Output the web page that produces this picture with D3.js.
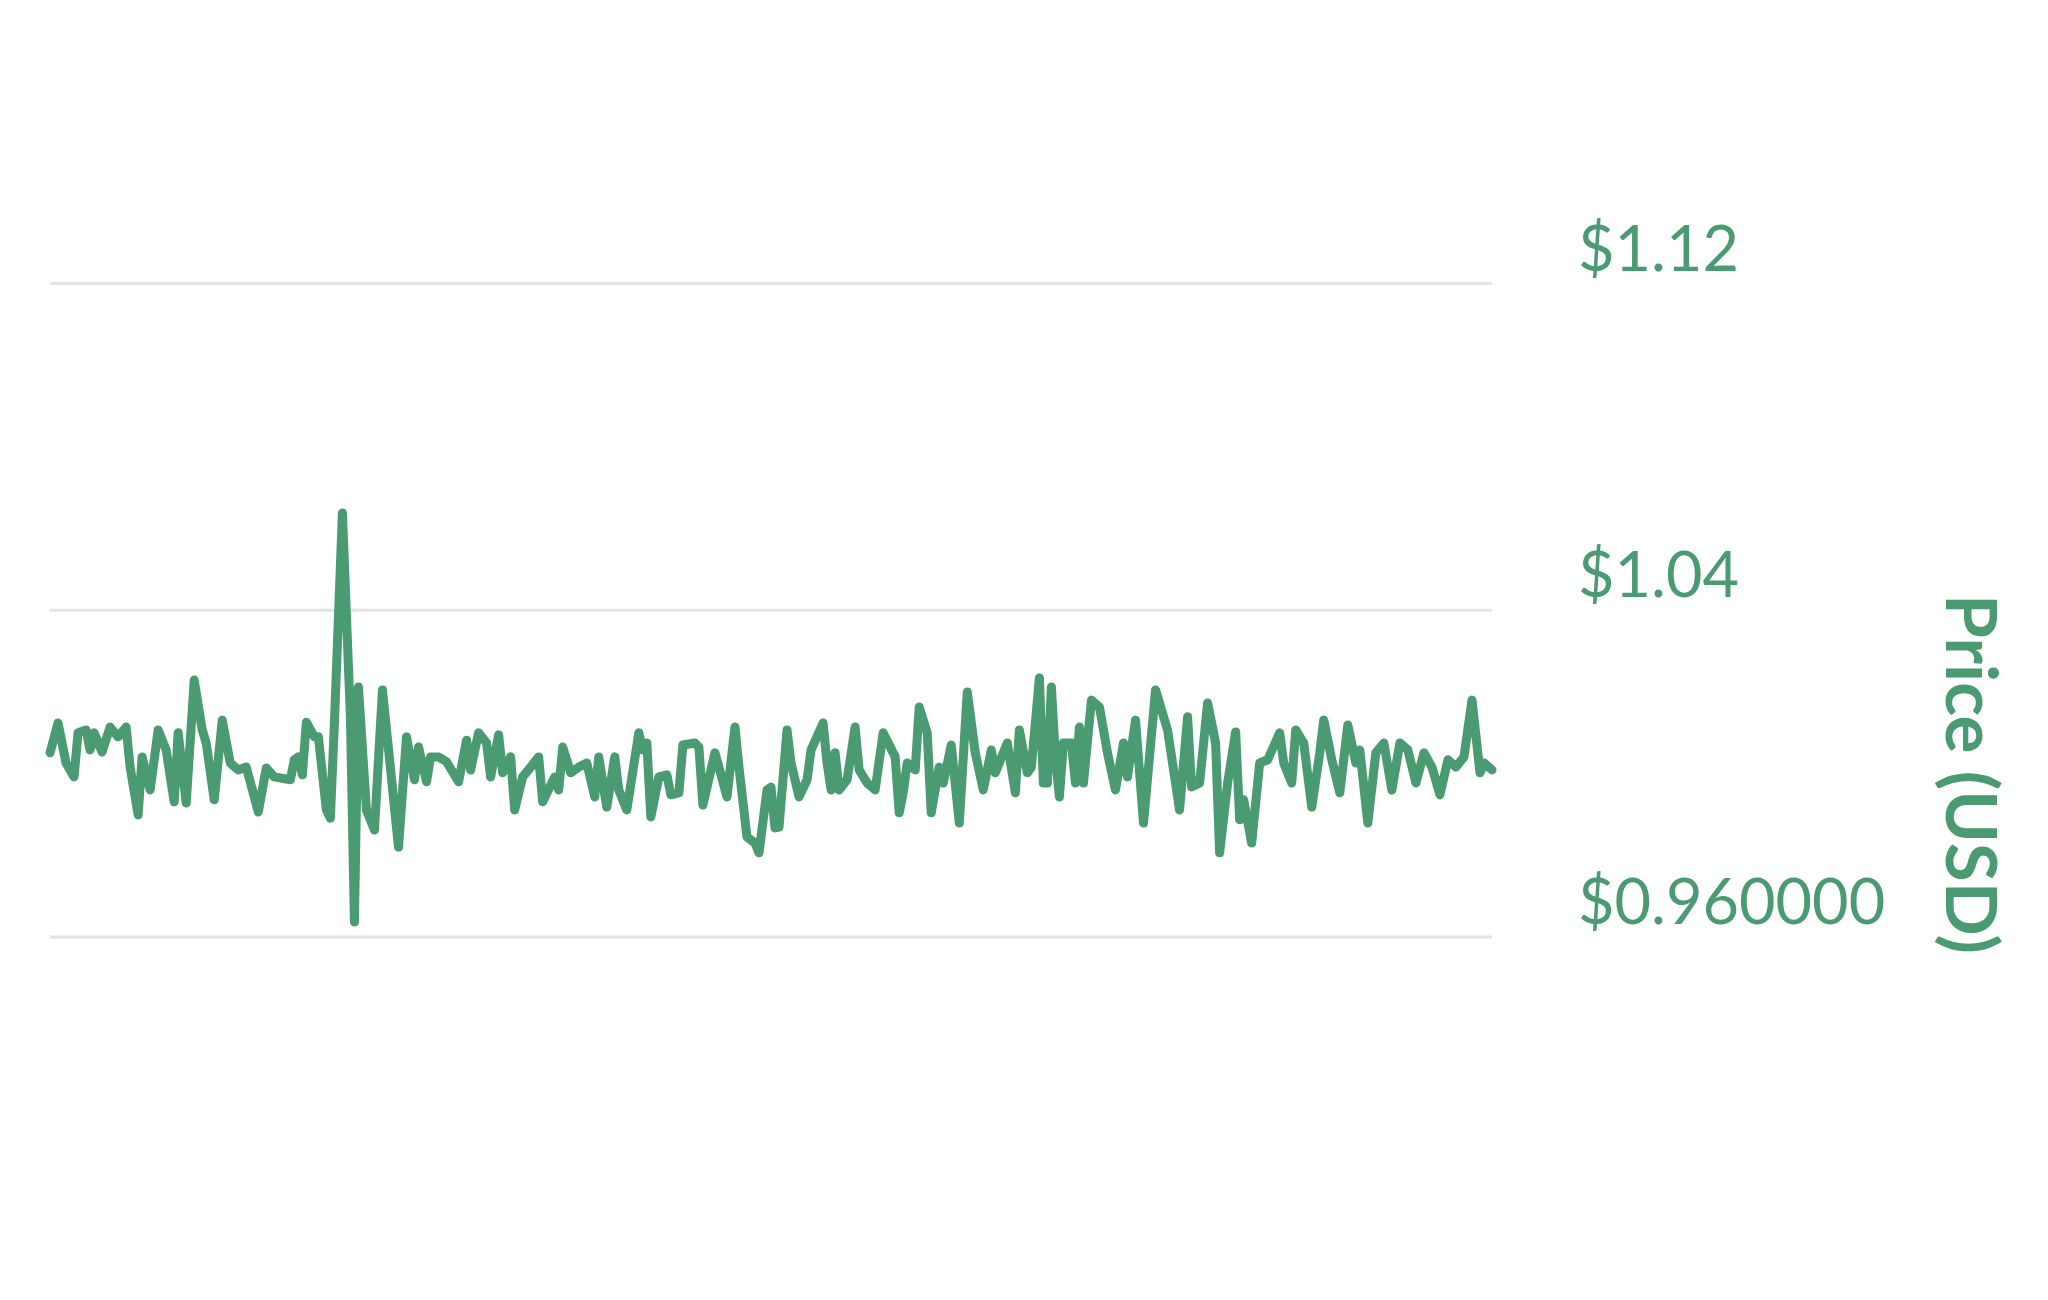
<!DOCTYPE html>
<html>
<head>
<meta charset="utf-8">
<script src="https://cdn.jsdelivr.net/npm/d3@7"></script>
<style>
  body { margin: 0; background: #fff; }
</style>
</head>
<body>
<script>
var w = 2048;
var h = 1300;

// day offsets and price (USD)
var days = [0, 2, 4, 6, 7, 9, 10, 11, 13, 15, 17, 19, 20, 22, 23, 25, 27, 29, 31, 32,
  34, 36, 38, 39, 41, 43, 45, 47, 49, 52, 54, 56, 60, 61, 62, 63, 64, 66, 67, 69,
  70, 71, 73, 75, 76, 77, 79, 81, 83, 87, 89, 91, 92, 94, 95, 97, 99, 102, 104, 105,
  107, 109, 110, 112, 113, 115, 116, 118, 120, 122, 123, 126, 127, 128, 130, 132, 134, 136, 137, 139,
  141, 142, 144, 147, 148, 149, 150, 152, 154, 155, 157, 158, 161, 162, 163, 166, 167, 169, 171, 172,
  174, 176, 177, 179, 180, 181, 182, 184, 185, 187, 189, 190, 193, 194, 195, 196, 197, 199, 201, 202,
  204, 206, 208, 211, 212, 213, 214, 216, 217, 219, 220, 222, 223, 225, 227, 229, 231, 233, 235, 236,
  239, 241, 242, 244, 245, 247, 248, 249, 250, 251, 252, 253, 255, 256, 257, 258, 260, 262, 264, 266,
  268, 269, 271, 273, 276, 279, 282, 284, 285, 287, 289, 291, 292, 294, 296, 297, 298, 300, 302, 304,
  307, 308, 310, 311, 313, 315, 317, 318, 320, 322, 324, 326, 327, 329, 331, 333, 335, 337, 339, 341,
  343, 345, 347, 349, 351, 353, 355, 357, 358, 360];

var prices = [1.0051, 1.0124, 1.0026, 0.9992, 1.0100, 1.0107, 1.0058, 1.0100, 1.0053, 1.0114, 1.0090, 1.0114, 1.0016, 0.9899, 1.0041, 0.9960, 1.0107, 1.0058, 0.9931, 1.0100,
  0.9928, 1.0229, 1.0107, 1.0075, 0.9936, 1.0131, 1.0026, 1.0009, 1.0016, 0.9906, 1.0014, 0.9992, 0.9985, 1.0034, 1.0041, 0.9997, 1.0126, 1.0090, 1.0090, 0.9911,
  0.9891, 1.0124, 1.0638, 1.0139, 0.9637, 1.0212, 0.9911, 0.9862, 1.0205, 0.9820, 1.0090, 0.9985, 1.0065, 0.9980, 1.0041, 1.0041, 1.0029, 0.9980, 1.0082, 1.0009,
  1.0100, 1.0075, 0.9992, 1.0095, 1.0002, 1.0041, 0.9911, 0.9992, 1.0016, 1.0041, 0.9931, 0.9992, 0.9960, 1.0065, 1.0002, 1.0016, 1.0026, 0.9943, 1.0041, 0.9918,
  1.0041, 0.9960, 0.9911, 1.0100, 1.0058, 1.0075, 0.9894, 0.9992, 0.9997, 0.9948, 0.9953, 1.0070, 1.0075, 1.0065, 0.9923, 1.0051, 1.0016, 0.9943, 1.0114, 1.0016,
  0.9845, 0.9830, 0.9806, 0.9960, 0.9967, 0.9867, 0.9869, 1.0107, 1.0026, 0.9943, 0.9985, 1.0058, 1.0124, 1.0026, 0.9960, 1.0051, 0.9960, 0.9985, 1.0114, 1.0009,
  0.9977, 0.9960, 1.0100, 1.0041, 0.9904, 0.9953, 1.0026, 1.0009, 1.0163, 1.0100, 0.9904, 1.0016, 0.9977, 1.0070, 0.9879, 1.0200, 1.0051, 0.9960, 1.0058, 1.0002,
  1.0075, 0.9953, 1.0107, 1.0002, 1.0016, 1.0234, 0.9977, 0.9977, 1.0212, 1.0041, 0.9943, 1.0075, 1.0075, 0.9977, 1.0114, 0.9977, 1.0180, 1.0163, 1.0051, 0.9960,
  1.0075, 0.9992, 1.0131, 0.9879, 1.0205, 1.0107, 0.9911, 1.0139, 0.9967, 0.9977, 1.0173, 1.0075, 0.9806, 0.9977, 1.0102, 0.9887, 0.9936, 0.9830, 1.0026, 1.0034,
  1.0100, 1.0026, 0.9977, 1.0107, 1.0075, 0.9918, 1.0051, 1.0131, 1.0034, 0.9953, 1.0119, 1.0026, 1.0058, 0.9879, 1.0051, 1.0075, 0.9960, 1.0075, 1.0058, 0.9977,
  1.0051, 1.0016, 0.9948, 1.0034, 1.0016, 1.0041, 1.0180, 1.0002, 1.0026, 1.0009];

var tickValues = [0.96, 1.04, 1.12];
var tickLabels = ["$0.960000", "$1.04", "$1.12"];
var axisTitle = "Price (USD)";

var green = "#4a9a72";

var data = days.map(function (d, i) { return { day: d, price: prices[i] }; });

var xScale = d3.scaleLinear()
            .domain([0, 360])
            .range([50, 1492]);

var yScale = d3.scaleLinear()
            .domain([0.96, 1.12])
            .range([937, 283.5]);

var svg = d3.select("body").append("svg").attr("width", w).attr("height", h);

//grid lines
svg.selectAll("line.grid")
    .data(tickValues).enter()
    .append("line")
    .attr("class", "grid")
    .attr("x1", xScale(0))
    .attr("x2", xScale(360))
    .attr("y1", (d) => yScale(d))
    .attr("y2", (d) => yScale(d))
    .attr("stroke", "#e4e4e4")
    .attr("stroke-width", 3);

//tick labels sit just above their grid line, on the right
svg.selectAll("text.tick")
    .data(tickValues).enter()
    .append("text")
    .attr("class", "tick")
    .text((d, i) => tickLabels[i])
    .attr("x", 1578)
    .attr("y", (d) => yScale(d) - 13)
    .attr("font-family", "Lato, sans-serif")
    .attr("font-size", "63px")
    .attr("fill", green);

//axis title, rotated to read downwards
svg.append("text")
    .text(axisTitle)
    .attr("transform", "translate(1946,774) rotate(90)")
    .attr("text-anchor", "middle")
    .attr("font-family", "Lato, sans-serif")
    .attr("font-weight", "bold")
    .attr("font-size", "71px")
    .attr("fill", green);

//the price line
var line = d3.line()
    .x((d) => xScale(d.day))
    .y((d) => yScale(d.price));

svg.append("path")
    .datum(data)
    .attr("d", line)
    .attr("fill", "none")
    .attr("stroke", green)
    .attr("stroke-width", 9)
    .attr("stroke-linejoin", "round")
    .attr("stroke-linecap", "round");
</script>
</body>
</html>
